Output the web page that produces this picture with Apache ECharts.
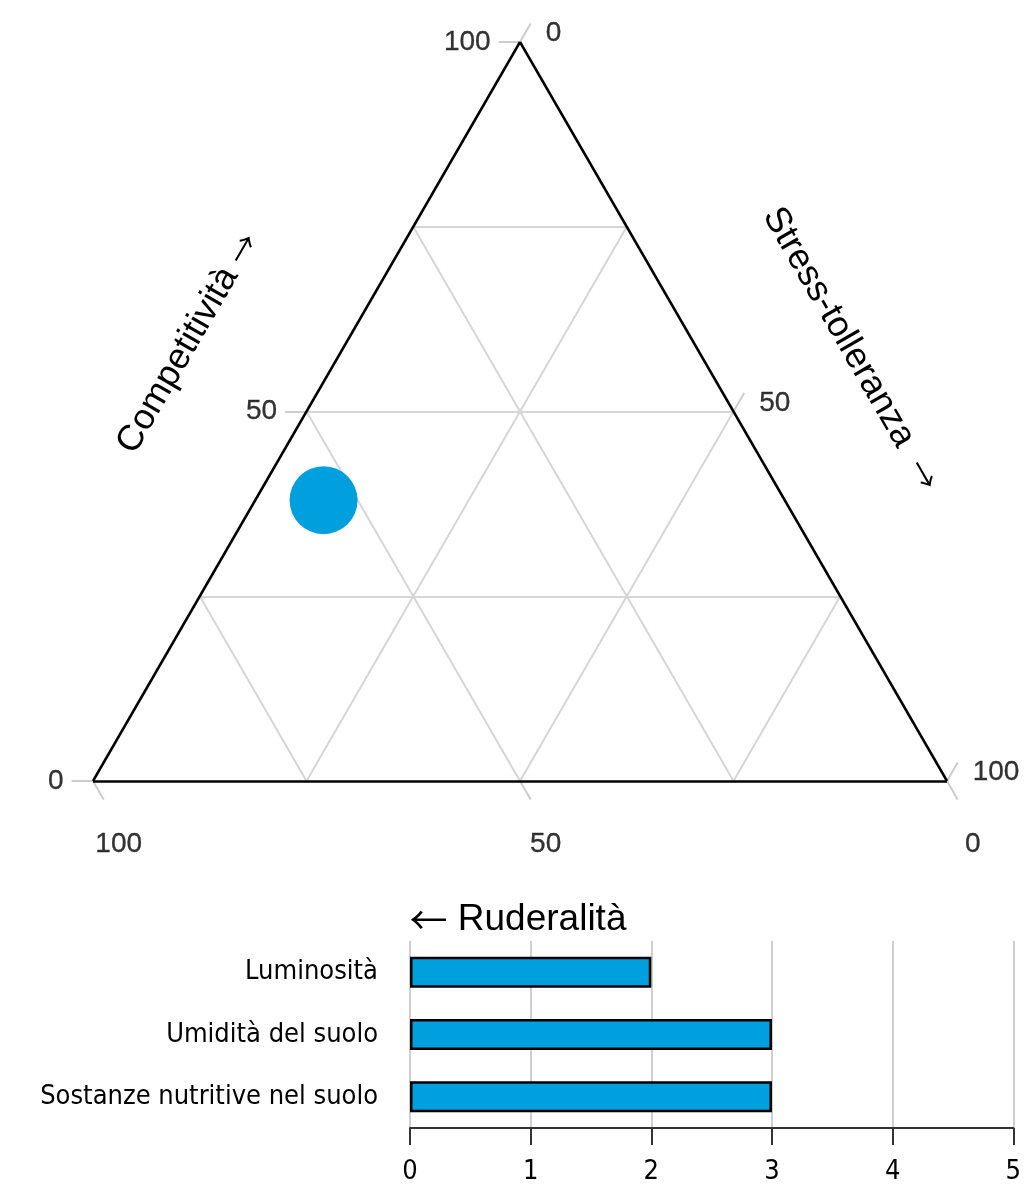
<!DOCTYPE html>
<html>
<head>
<meta charset="utf-8">
<script src="https://cdn.jsdelivr.net/npm/echarts@6/dist/echarts.min.js"></script>
<style>html,body{margin:0;padding:0;background:#fff}#chart{width:1024px;height:1195px}</style>
</head>
<body>
<div id="chart"></div>
<script>
// ---- data ----
const tickValues = [0, 50, 100];          // labelled ternary ticks
const gridLevels = [25, 50, 75];          // ternary grid levels
const pointC = [38];                      // Competitività
const pointS = [8];                       // Stress-tolleranza
const pointR = [54];                      // Ruderalità
const axisTitles = ['Competitività', 'Stress-tolleranza', 'Ruderalità'];
const barCategories = ['Luminosità', 'Umidità del suolo', 'Sostanze nutritive nel suolo'];
const barValues = [2, 3, 3];
const barTicks = [0, 1, 2, 3, 4, 5];

// ---- ternary -> cartesian (units of 100 along base) ----
const H = Math.sqrt(3) / 2;
function tern(c, s) { return [s + c / 2, c * H]; }

const TL = 2.5; // tick extension in ternary units
const outline = [
  { coords: [tern(100, 0), tern(0, 0)] },
  { coords: [tern(0, 0), tern(0, 100)] },
  { coords: [tern(0, 100), tern(100, 0)] }
];
const grid = [];
gridLevels.forEach(v => {
  grid.push({ coords: [tern(v, 0), tern(v, 100 - v)] });          // constant C
  grid.push({ coords: [tern(100 - v, v), tern(0, v)] });          // constant S
  grid.push({ coords: [tern(100 - v, 0), tern(0, 100 - v)] });    // constant R
});
const ticks = [], leftLab = [], rightLab = [], bottomLab = [];
tickValues.forEach(v => {
  const a0 = tern(v, 0), a1 = tern(v, -TL);
  ticks.push({ coords: [a0, a1] });
  leftLab.push({ value: a1, name: String(v) });
  const b0 = tern(100 - v, v), b1 = tern(100 - v + TL, v);
  ticks.push({ coords: [b0, b1] });
  rightLab.push({ value: b1, name: String(v) });
  const c0 = tern(0, 100 - v), c1 = tern(-TL, 100 - v + TL);
  ticks.push({ coords: [c0, c1] });
  bottomLab.push({ value: c1, name: String(v) });
});
const pointData = pointC.map((c, i) => tern(c, pointS[i]));

const tickFont = { fontFamily: 'Liberation Sans', fontSize: 28, color: '#000',
  textBorderColor: '#000', textBorderWidth: 0.3 };
const labSeries = (data, lab) => ({
  type: 'scatter', xAxisIndex: 0, yAxisIndex: 0, data, symbolSize: 0, clip: false, silent: true,
  itemStyle: { color: '#000' },
  label: Object.assign({ show: true, formatter: p => p.name }, tickFont, lab)
});
const titleRich = {
  t: { fontFamily: 'Liberation Sans', fontSize: 36, fill: '#000', verticalAlign: 'middle' },
  r: { fontFamily: 'Liberation Sans', fontSize: 37, fill: '#000', verticalAlign: 'middle' },
  s: { fontFamily: 'Noto Sans CJK SC', fontSize: 30, fill: '#000', verticalAlign: 'middle' },
  b: { fontFamily: 'Noto Sans CJK SC', fontSize: 38, fill: '#000', verticalAlign: 'middle' }
};

const chart = echarts.init(document.getElementById('chart'));
chart.setOption({
  animation: false,
  backgroundColor: '#fff',
  grid: [
    { left: 93, top: 42, width: 854, height: 739 },
    { left: 410, top: 941, width: 612, height: 187 }
  ],
  xAxis: [
    { gridIndex: 0, type: 'value', min: 0, max: 100, show: false },
    { gridIndex: 1, type: 'value', min: 0, max: 5, interval: 1,
      axisLine: { show: true, lineStyle: { color: '#333', width: 2 } },
      axisTick: { show: true, length: 17, lineStyle: { color: '#333', width: 2 } },
      splitLine: { show: true, lineStyle: { color: '#cfcfcf', width: 2 } },
      axisLabel: { margin: 30, fontFamily: 'DejaVu Sans Condensed', fontSize: 27, color: '#000',
        formatter: v => barTicks.includes(v) ? String(v) : '' } }
  ],
  yAxis: [
    { gridIndex: 0, type: 'value', min: 0, max: 100 * H, show: false },
    { gridIndex: 1, type: 'category', inverse: true, data: barCategories,
      axisLine: { show: false }, axisTick: { show: false },
      axisLabel: { margin: 32, fontFamily: 'DejaVu Sans Condensed', fontSize: 27, color: '#000' } }
  ],
  series: [
    { type: 'lines', coordinateSystem: 'cartesian2d', xAxisIndex: 0, yAxisIndex: 0, z: 1, clip: false,
      data: grid, lineStyle: { color: '#d6d6d6', width: 2, opacity: 1 }, silent: true },
    { type: 'lines', coordinateSystem: 'cartesian2d', xAxisIndex: 0, yAxisIndex: 0, z: 1, clip: false,
      data: ticks, lineStyle: { color: '#cccccc', width: 2, opacity: 1 }, silent: true },
    { type: 'lines', coordinateSystem: 'cartesian2d', xAxisIndex: 0, yAxisIndex: 0, z: 2, clip: false,
      data: outline, lineStyle: { color: '#000', width: 2.5, opacity: 1 }, silent: true },
    { type: 'scatter', xAxisIndex: 0, yAxisIndex: 0, z: 3, data: pointData, clip: false,
      symbolSize: 68, itemStyle: { color: '#00a0de', opacity: 1 } },
    labSeries(leftLab, { position: 'left', distance: 8 }),
    labSeries(rightLab, { position: 'right', distance: 15, offset: [0, 10] }),
    labSeries(bottomLab, { position: 'inside', offset: [15, 45] }),
    { type: 'bar', xAxisIndex: 1, yAxisIndex: 1, data: barValues, barWidth: 31,
      itemStyle: { color: '#00a0de', borderColor: '#000', borderWidth: 2.5 } }
  ],
  graphic: [
    { type: 'text', x: 188, y: 343, rotation: Math.PI / 3,
      style: { text: '{t|' + axisTitles[0] + '\u00a0}{s|→}', rich: titleRich,
        align: 'center', verticalAlign: 'middle' } },
    { type: 'text', x: 851, y: 349, rotation: -Math.PI / 3,
      style: { text: '{t|' + axisTitles[1] + '\u00a0\u00a0}{s|→}', rich: titleRich,
        align: 'center', verticalAlign: 'middle' } },
    { type: 'text', x: 518, y: 920,
      style: { text: '{b|←}{r|\u00a0' + axisTitles[2] + '}', rich: titleRich,
        align: 'center', verticalAlign: 'middle' } }
  ]
});
</script>
</body>
</html>
